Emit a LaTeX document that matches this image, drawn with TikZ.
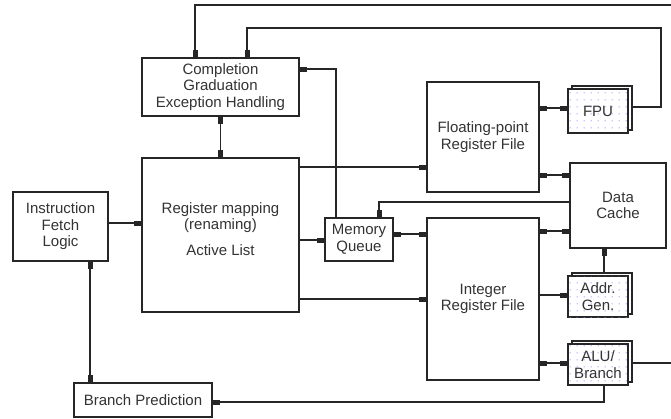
\documentclass[tikz,border=0pt]{standalone}
\usepackage{fontspec}
\setmainfont{Liberation Sans}
\usetikzlibrary{arrows.meta,patterns.meta}

% sparse grid of small dots used inside the execution units
\pgfdeclarepattern{
  name=unitdots, type=uncolored,
  bottom left={\pgfpoint{0pt}{0pt}}, top right={\pgfpoint{7pt}{7pt}},
  tile size={\pgfpoint{7pt}{7pt}},
  code={\pgfpathcircle{\pgfpoint{3.5pt}{3.5pt}}{0.75pt}\pgfusepath{fill}}
}

\tikzset{
  wire/.style={line width=1.1pt, draw=black!85},
  box/.style={draw=black!85, line width=1.1pt, fill=white, rectangle,
    align=center, inner sep=0pt, text=black!80,
    font=\fontsize{15}{16.5}\selectfont},
  unit/.style={box, postaction={pattern={unitdots}, pattern color=blue!40},
    minimum width=60pt, minimum height=41pt},
  unitback/.style={draw=black!85, line width=1.1pt, fill=white,
    rectangle, inner sep=0pt, minimum width=60pt, minimum height=41pt},
  tip/.style={-{Rectangle[length=7pt,width=5pt]}},
  tips/.style={{Rectangle[length=7pt,width=5pt]}-{Rectangle[length=7pt,width=5pt]}},
}

\begin{document}
\begin{tikzpicture}[x=1pt,y=-1pt]
\useasboundingbox (0,0) rectangle (671,418);

% main blocks
\node[box, minimum width=157pt, minimum height=58pt] (comp) at (220.5,87)
  {Completion\\Graduation\\Exception Handling};
\node[box, minimum width=157pt, minimum height=154pt] (reg) at (220.5,235) {};
\node[box, draw=none, fill=none] (regtxt) at (220.5,229)
  {Register mapping\\(renaming)\\[9pt]Active List};
\node[box, minimum width=95pt, minimum height=69pt] (ifl) at (60.5,226.5)
  {Instruction\\Fetch\\Logic};
\node[box, minimum width=138pt, minimum height=34pt] (bp) at (143,400)
  {Branch Prediction};
\node[box, minimum width=68pt, minimum height=43pt] (mq) at (359,239.5)
  {Memory\\Queue};
\node[box, minimum width=112pt, minimum height=110pt] (fpr) at (483,137)
  {Floating-point\\Register File};
\node[box, minimum width=112pt, minimum height=162pt] (ir) at (483,299)
  {Integer\\Register File};
\node[box, minimum width=96pt, minimum height=85pt] (dc) at (618,205.5)
  {Data\\Cache};

% execution units, each drawn as two stacked sheets
\node[unitback, minimum height=44pt] (fpub) at (602,108) {};
\node[unit, minimum height=44pt] (fpu) at (598,111) {FPU};
\node[unitback] (agb) at (602,293.5) {};
\node[unit] (ag) at (598,296.5) {Addr.\\Gen.};
\node[unitback] (alub) at (602,361.5) {};
\node[unit] (alu) at (598,364.5) {ALU/\\Branch};

% free ends at the right border
\coordinate (exitA) at (671,363);
\coordinate (exitB) at (671,5);

% connectors
\draw[wire, tips] (comp.south) -- (reg.north);
\draw[wire, tip] (ifl.east |- 0,223) -- (reg.west |- 0,223);
\draw[wire, tips] (ifl.south -| 90,0) -- (bp.north -| 90,0);
\draw[wire, tip] (reg.east |- 0,167) -- (fpr.west |- 0,167);
\draw[wire, tip] (reg.east |- 0,240) -- (mq.west |- 0,240);
\draw[wire, tip] (reg.east |- 0,299) -- (ir.west |- 0,299);
\draw[wire, tips] (mq.east |- 0,234) -- (ir.west |- 0,234);
\draw[wire, tip] (mq.north -| 336,0) -- (336,69) -- (comp.east |- 0,69);
\draw[wire, tip] (dc.west |- 0,202) -- (379,202) -- (mq.north -| 379,0);
\draw[wire, tips] (fpr.east |- 0,108) -- (fpu.west |- 0,108);
\draw[wire, tips] (fpr.east |- 0,175) -- (dc.west |- 0,175);
\draw[wire, tips] (ir.east |- 0,231) -- (dc.west |- 0,231);
\draw[wire, tip] (ir.east |- 0,295) -- (ag.west |- 0,295);
\draw[wire, tip] (agb.north -| 604,0) -- (dc.south -| 604,0);
\draw[wire, tips] (ir.east |- 0,363) -- (alu.west |- 0,363);
\draw[wire, tip] (alu.south -| 604,0) -- (604,402) -- (bp.east |- 0,402);
\draw[wire] (alub.east |- 0,363) -- (exitA);
\draw[wire, tip] (exitB) -- (195,5) -- (comp.north -| 195,0);
\draw[wire, tip] (fpub.east |- 0,107) -- (661,107) -- (661,28) -- (247,28)
  -- (comp.north -| 247,0);
\end{tikzpicture}
\end{document}
